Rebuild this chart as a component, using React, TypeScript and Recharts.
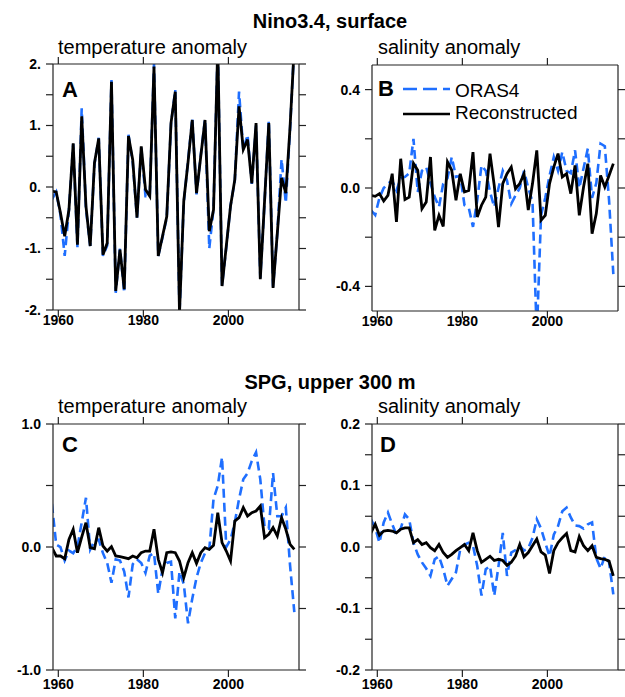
import { LineChart, Line, XAxis, YAxis, Legend } from 'recharts'

const years = [
  1958, 1959, 1960, 1961, 1962, 1963, 1964, 1965, 1966, 1967,
  1968, 1969, 1970, 1971, 1972, 1973, 1974, 1975, 1976, 1977,
  1978, 1979, 1980, 1981, 1982, 1983, 1984, 1985, 1986, 1987,
  1988, 1989, 1990, 1991, 1992, 1993, 1994, 1995, 1996, 1997,
  1998, 1999, 2000, 2001, 2002, 2003, 2004, 2005, 2006, 2007,
  2008, 2009, 2010, 2011, 2012, 2013, 2014, 2015,
]

// Nino3.4 surface temperature anomaly
const ninoTempRecon = [
  -0.07, -0.08, -0.42, -0.8, -0.37, 0.71, -0.94, 1.15, -0.31, -0.96,
  0.39, 0.79, -1.1, -0.91, 1.71, -1.69, -1.02, -1.66, 0.83, 0.44,
  -0.5, 0.66, -0.04, -0.15, 1.96, -1.12, -0.8, -0.48, 1.04, 1.55,
  -2.05, -0.23, 0.4, 1.09, -0.1, 0.5, 1.09, -0.72, -0.37, 2.3,
  -1.61, -0.96, -0.31, 0.12, 1.31, 0.61, 0.77, 0.06, 1.04, -1.5,
  -0.23, 1.04, -1.64, -0.75, 0.15, -0.1, 0.98, 2.3,
]
const ninoTempOras = [
  -0.2, -0.08, -0.45, -1.12, -0.37, 0.7, -0.98, 1.28, -0.35, -0.96,
  0.37, 0.8, -1.12, -0.95, 1.74, -1.72, -1.0, -1.72, 0.85, 0.4,
  -0.5, 0.64, -0.15, -0.15, 2.0, -1.12, -0.82, -0.5, 1.02, 1.58,
  -2.05, -0.25, 0.42, 1.12, -0.12, 0.52, 1.1, -1.0, -0.35, 2.3,
  -1.6, -0.98, -0.3, 0.1, 1.55, 0.6, 0.85, 0.05, 1.0, -1.48,
  -0.25, 1.08, -1.62, -0.75, 0.45, -0.26, 0.95, 2.3,
]

// Nino3.4 surface salinity anomaly
const ninoSaltRecon = [
  -0.03, -0.034, -0.023, -0.053, -0.03, 0.058, -0.138, 0.119, -0.047, -0.037,
  0.1, 0.072, -0.084, -0.057, 0.126, -0.172, -0.111, -0.156, 0.106, 0.072,
  -0.05, 0.058, -0.016, -0.01, 0.146, -0.118, -0.07, -0.037, 0.14, 0.01,
  -0.159, 0.018, 0.058, 0.085, -0.003, 0.018, 0.058, -0.09, 0.018, 0.153,
  -0.131, -0.111, 0.018, 0.085, 0.14, 0.045, 0.058, -0.023, 0.092, -0.111,
  0.004, 0.099, -0.186, -0.104, 0.051, 0.004, 0.051, 0.099,
]
const ninoSaltOras = [
  -0.09, -0.11, -0.04, 0.0, 0.018, 0.03, -0.01, 0.04, 0.045, 0.06,
  0.2, -0.016, 0.07, 0.085, 0.02, -0.037, -0.077, 0.018, 0.04, 0.126,
  0.045, 0.05, -0.07, -0.08, -0.158, -0.05, 0.092, 0.07, -0.016, -0.077,
  0.0, 0.07, 0.03, -0.064, -0.03, 0.0, 0.07, 0.0, -0.057, -0.6,
  -0.111, -0.04, 0.05, 0.126, 0.07, 0.146, 0.07, 0.06, 0.153, 0.0,
  0.08, 0.16, -0.04, 0.02, 0.18, 0.17, -0.05, -0.35,
]

// SPG upper 300 m temperature anomaly
const spgTempRecon = [
  -0.005, -0.073, -0.073, -0.095, 0.062, 0.144, -0.046, 0.08, 0.198, -0.005,
  -0.014, 0.157, 0.008, -0.033, 0.003, -0.073, -0.079, -0.087, -0.095, -0.073,
  -0.087, -0.046, -0.033, -0.033, 0.144, -0.1, -0.209, -0.046, -0.04, -0.046,
  -0.114, -0.249, -0.127, -0.046, -0.133, -0.046, -0.005, -0.02, 0.014, 0.279,
  0.035, -0.033, -0.114, 0.211, 0.238, 0.32, 0.252, 0.279, 0.293, 0.333,
  0.076, 0.103, 0.157, 0.089, 0.238, 0.144, 0.022, -0.019,
]
const spgTempOras = [
  0.35, 0.02, 0.0, -0.11, -0.03, -0.05, 0.0, 0.2, 0.4, -0.02,
  0.05, 0.06, -0.05, -0.13, -0.29, -0.1, -0.11, -0.2, -0.41, -0.14,
  -0.1, -0.13, -0.21, -0.07, -0.05, -0.38, -0.18, -0.13, -0.12, -0.58,
  -0.2, -0.3, -0.62, -0.42, -0.25, -0.13, -0.05, -0.02, 0.39, 0.5,
  0.73, 0.0, 0.06, 0.2, 0.39, 0.55, 0.6, 0.7, 0.77, 0.55,
  0.16, 0.15, 0.6, 0.25, 0.25, 0.32, -0.15, -0.53,
]

// SPG upper 300 m salinity anomaly
const spgSaltRecon = [
  0.023, 0.037, 0.019, 0.026, 0.027, 0.026, 0.023, 0.029, 0.031, 0.031,
  0.007, 0.012, 0.004, 0.007, -0.001, -0.006, 0.004, -0.009, -0.017, -0.012,
  -0.006, -0.001, 0.004, -0.006, 0.023, -0.006, -0.025, -0.02, -0.015, -0.022,
  -0.02, -0.022, -0.03, -0.025, -0.015, 0.004, -0.016, -0.009, 0.002, 0.013,
  -0.008, -0.013, -0.043, -0.006, 0.007, 0.015, 0.022, -0.006, -0.008, 0.017,
  0.002, -0.006, 0.002, -0.017, -0.019, -0.02, -0.023, -0.047,
]
const spgSaltOras = [
  0.045, 0.031, 0.007, 0.04, 0.056, 0.037, 0.02, 0.03, 0.053, 0.045,
  0.007, -0.012, -0.025, -0.035, -0.047, -0.02, -0.015, -0.036, -0.063, -0.052,
  -0.041, -0.004, 0.004, 0.007, 0.002, -0.031, -0.079, -0.036, -0.031, -0.079,
  -0.031, 0.023, -0.047, -0.009, -0.005, 0.002, -0.006, -0.002, 0.015, 0.045,
  0.03, 0.007, -0.015, 0.02, 0.034, 0.058, 0.064, 0.048, 0.035, 0.034,
  0.03, 0.037, 0.04, -0.018, -0.035, -0.015, -0.025, -0.077,
]

const xTicks = [1960, 1980, 2000]
const xDomain = [1958.75, 2016.6]

const BLUE = '#1f6fff'
const FONT = '"Liberation Sans", Arial, sans-serif'

// annual means are plotted at mid-year
const rows = (oras: number[], recon: number[]) =>
  years.map((y, i) => ({ x: y + 0.5, oras: oras[i], recon: recon[i] }))

const blank = () => ''
const tickStyle = { fontSize: 14, fill: '#000', fontFamily: FONT, fontWeight: 'bold' }

type PanelProps = {
  left: number
  top: number
  data: { x: number; oras: number; recon: number }[]
  domain: number[]
  ticks: number[]
  fmt: (v: number) => string
  xGap: number
  legend?: boolean
}

function LegendBox() {
  return (
    <svg width={190} height={46} style={{ display: 'block' }}>
      <line x1={0} x2={47} y1={11} y2={11} stroke={BLUE} strokeWidth={2.5} strokeDasharray="14 6" />
      <text x={52} y={18.5} fontSize={19} fontFamily={FONT}>ORAS4</text>
      <line x1={0} x2={47} y1={36} y2={36} stroke="#000" strokeWidth={2.5} />
      <text x={52} y={41} fontSize={19} fontFamily={FONT}>Reconstructed</text>
    </svg>
  )
}

function Panel({ left, top, data, domain, ticks, fmt, xGap, legend }: PanelProps) {
  const axis = { stroke: '#222', strokeWidth: 1.2 }
  return (
    <div style={{ position: 'absolute', left: left - 40, top: top - 10 }}>
      <LineChart width={296} height={286} data={data} margin={{ top: 0, right: 0, bottom: 0, left: 0 }}>
        <XAxis dataKey="x" type="number" domain={xDomain} ticks={xTicks} interval={0}
          allowDataOverflow height={30} tickSize={7} tickMargin={xGap}
          axisLine={axis} tickLine={axis} tick={tickStyle} />
        <XAxis xAxisId="top" orientation="top" dataKey="x" type="number" domain={xDomain}
          ticks={xTicks} interval={0} allowDataOverflow height={10} tickSize={7}
          axisLine={axis} tickLine={axis} tickFormatter={blank} />
        <YAxis type="number" domain={domain} ticks={ticks} interval={0} allowDataOverflow
          width={40} tickSize={7} tickMargin={5} tickFormatter={fmt}
          axisLine={axis} tickLine={axis} tick={tickStyle} />
        <YAxis yAxisId="right" orientation="right" type="number" domain={domain} ticks={ticks}
          interval={0} allowDataOverflow width={10} tickSize={7} tickFormatter={blank}
          axisLine={axis} tickLine={axis} />
        {legend && (
          <Legend layout="vertical" align="center" verticalAlign="middle"
            wrapperStyle={{ left: 71, top: 23, width: 190, height: 46 }}
            content={() => <LegendBox />} />
        )}
        <Line dataKey="oras" name="ORAS4" type="linear" dot={false} stroke={BLUE}
          strokeWidth={2.6} strokeDasharray="9 5" isAnimationActive={false} />
        <Line dataKey="recon" name="Reconstructed" type="linear" dot={false} stroke="#000"
          strokeWidth={2.8} isAnimationActive={false} />
      </LineChart>
    </div>
  )
}

const fmtA = (v: number) => (Number.isInteger(v) ? `${v}.` : '')
const fmtB = (v: number) => (Math.abs(Math.abs(v) - 0.2) < 1e-6 ? '' : v.toFixed(1))
const fmtC = (v: number) => (Number.isInteger(v) ? v.toFixed(1) : '')
const fmtD = (v: number) => (Math.round(Math.abs(v) * 100) % 10 === 0 ? v.toFixed(1) : '')

export default function App() {
  return (
    <div style={{ position: 'absolute', left: 0, top: 0, width: 625, height: 697, overflow: 'hidden', background: '#fff', fontFamily: FONT }}>
      <Panel left={53} top={64} data={rows(ninoTempOras, ninoTempRecon)} domain={[-2, 2]}
        ticks={[-2, -1.5, -1, -0.5, 0, 0.5, 1, 1.5, 2]} fmt={fmtA} xGap={-2} />
      <Panel left={372} top={65} data={rows(ninoSaltOras, ninoSaltRecon)} domain={[-0.5, 0.5]}
        ticks={[-0.4, -0.2, 0, 0.2, 0.4]} fmt={fmtB} xGap={-2} legend />
      <Panel left={53} top={424} data={rows(spgTempOras, spgTempRecon)} domain={[-1, 1]}
        ticks={[-1, -0.5, 0, 0.5, 1]} fmt={fmtC} xGap={2} />
      <Panel left={372} top={424} data={rows(spgSaltOras, spgSaltRecon)} domain={[-0.2, 0.2]}
        ticks={[-0.2, -0.15, -0.1, -0.05, 0, 0.05, 0.1, 0.15, 0.2]} fmt={fmtD} xGap={2} />
      <svg width={625} height={697} style={{ position: 'absolute', left: 0, top: 0, pointerEvents: 'none' }}>
        <g fontFamily={FONT} fill="#000">
          <text x={330} y={28} fontSize={20} fontWeight="bold" textAnchor="middle">Nino3.4, surface</text>
          <text x={58} y={54} fontSize={20}>temperature anomaly</text>
          <text x={378} y={54} fontSize={20}>salinity anomaly</text>
          <text x={62} y={97} fontSize={22} fontWeight="bold">A</text>
          <text x={378} y={96} fontSize={22} fontWeight="bold">B</text>
          <text x={330} y={389} fontSize={20} fontWeight="bold" textAnchor="middle">SPG, upper 300 m</text>
          <text x={58} y={413} fontSize={20}>temperature anomaly</text>
          <text x={378} y={413} fontSize={20}>salinity anomaly</text>
          <text x={62} y={452} fontSize={22} fontWeight="bold">C</text>
          <text x={380} y={452} fontSize={22} fontWeight="bold">D</text>
        </g>
      </svg>
    </div>
  )
}
